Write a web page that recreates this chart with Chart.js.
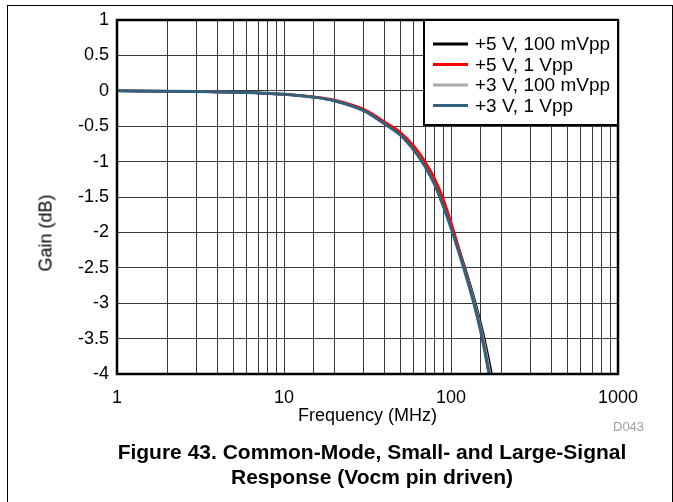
<!DOCTYPE html>
<html><head><meta charset="utf-8">
<script src="https://cdn.jsdelivr.net/npm/chart.js@4/dist/chart.umd.min.js"></script>
<style>
html,body{margin:0;padding:0;background:#fff;}
#wrap{position:relative;width:673px;height:502px;overflow:hidden;font-family:"Liberation Sans",Arial,sans-serif;color:#000;}
#frame{position:absolute;left:7px;top:5px;width:666px;height:540px;border:1px solid #000;box-sizing:border-box;}
#c{position:absolute;left:0;top:0;}
#ytitle{position:absolute;left:46px;top:233px;transform:translate(-50%,-50%) rotate(-90deg);font-size:18px;white-space:nowrap;}
#code{position:absolute;left:613px;top:419px;font-size:13px;color:#a0a0a0;}
#cap{position:absolute;left:22px;width:700px;top:439px;text-align:center;font-weight:bold;font-size:21px;line-height:25px;}
</style></head>
<body><div id="wrap">
<div id="frame"></div>
<canvas id="c" width="673" height="502"></canvas>
<div id="ytitle">Gain (dB)</div>
<div id="code">D043</div>
<div id="cap">Figure 43. Common-Mode, Small- and Large-Signal<br>Response (Vocm pin driven)</div>
</div>
<script>
const freqMHz = [1,2,3,5,7,10,15,20,30,42,49.5,61,70,79,89,102,119,137,154,169,185];
const seriesLabels = ['+5 V, 100 mVpp','+5 V, 1 Vpp','+3 V, 100 mVpp','+3 V, 1 Vpp'];
const gain5V100mVpp = [0,-0.005,-0.01,-0.02,-0.03,-0.05,-0.09,-0.14,-0.28,-0.5,-0.62,-0.86,-1.07,-1.3,-1.6,-1.97,-2.44,-2.92,-3.38,-3.82,-4.3];
const gain5V1Vpp    = [0,-0.005,-0.01,-0.02,-0.03,-0.05,-0.085,-0.13,-0.26,-0.47,-0.58,-0.8,-1.0,-1.22,-1.5,-1.92,-2.47,-3.0,-3.5,-4.0,-4.5];
const gain3V100mVpp = [0,-0.005,-0.01,-0.02,-0.03,-0.05,-0.09,-0.14,-0.28,-0.5,-0.62,-0.86,-1.07,-1.3,-1.6,-1.99,-2.47,-2.96,-3.44,-3.91,-4.45];
const gain3V1Vpp    = [0,-0.005,-0.01,-0.02,-0.03,-0.05,-0.09,-0.14,-0.28,-0.5,-0.62,-0.86,-1.07,-1.3,-1.6,-2.0,-2.5,-3.0,-3.5,-4.0,-4.55];
const seriesColors = ['#000000','#ff0000','#aaaaaa','#31617c'];
const yTickValues = [1,0.5,0,-0.5,-1,-1.5,-2,-2.5,-3,-3.5,-4];
const xTickLabels = ['1','10','100','1000'];

const allGains = [gain5V100mVpp, gain5V1Vpp, gain3V100mVpp, gain3V1Vpp];
const drawOrder = [3,1,2,0];
const datasets = allGains.map((g,k)=>({
  label: seriesLabels[k],
  data: freqMHz.map((f,i)=>({x:f,y:g[i]})),
  borderColor: seriesColors[k],
  backgroundColor: seriesColors[k],
  borderWidth: k===3 ? 3 : 2.5,
  order: drawOrder[k],
  pointRadius: 0,
  cubicInterpolationMode: 'monotone',
  fill: false
}));

const framePlugin = {
  id:'frame',
  afterDatasetsDraw(chart){
    const {ctx, chartArea:a} = chart;
    ctx.save();
    ctx.strokeStyle='#000'; ctx.lineWidth=2.5;
    ctx.strokeRect(a.left, a.top, a.right-a.left, a.bottom-a.top);
    const w=194, h=105, L=a.right-w, T=a.top;
    ctx.fillStyle='#fff';
    ctx.fillRect(L,T,w,h);
    ctx.lineWidth=2;
    ctx.strokeRect(L,T,w,h);
    ctx.font='19px "Liberation Sans", Arial, sans-serif';
    ctx.textBaseline='middle';
    ctx.textAlign='left';
    chart.data.datasets.forEach((ds,i)=>{
      const y=T+24+i*20.5;
      ctx.strokeStyle=ds.borderColor; ctx.lineWidth=3;
      ctx.beginPath(); ctx.moveTo(L+9,y); ctx.lineTo(L+44,y); ctx.stroke();
      ctx.fillStyle='#000';
      ctx.fillText(ds.label, L+51, y+1);
    });
    ctx.restore();
  }
};

new Chart(document.getElementById('c'), {
  type:'line',
  data:{datasets},
  options:{
    responsive:false, animation:false,
    layout:{padding:{left:0, top:20, right:55, bottom:0}},
    plugins:{legend:{display:false}, tooltip:{enabled:false}},
    scales:{
      x:{
        type:'logarithmic', min:1, max:1000,
        afterFit(s){ s.height = 128; },
        grid:{color:'#3a3a3a', lineWidth:1, drawTicks:false},
        border:{display:false},
        ticks:{
          autoSkip:false, maxRotation:0, padding:13, color:'#000',
          font:{size:18, family:'"Liberation Sans", Arial, sans-serif'},
          callback(v){ const l=Math.log10(v); return Math.abs(l-Math.round(l))<1e-9 ? xTickLabels[Math.round(l)] : ''; }
        },
        title:{display:true, text:'Frequency (MHz)', color:'#000',
          font:{size:18, family:'"Liberation Sans", Arial, sans-serif'}, padding:{top:0,bottom:75}}
      },
      y:{
        min:-4, max:1,
        afterFit(s){ s.width = 117; },
        afterBuildTicks(s){ s.ticks = yTickValues.map(v=>({value:v})); },
        grid:{color:'#3a3a3a', lineWidth:1, drawTicks:false},
        border:{display:false},
        ticks:{padding:8, color:'#000',
          font:{size:18, family:'"Liberation Sans", Arial, sans-serif'},
          callback(v){ return String(v); }}
      }
    }
  },
  plugins:[framePlugin]
});
</script>
</body></html>
